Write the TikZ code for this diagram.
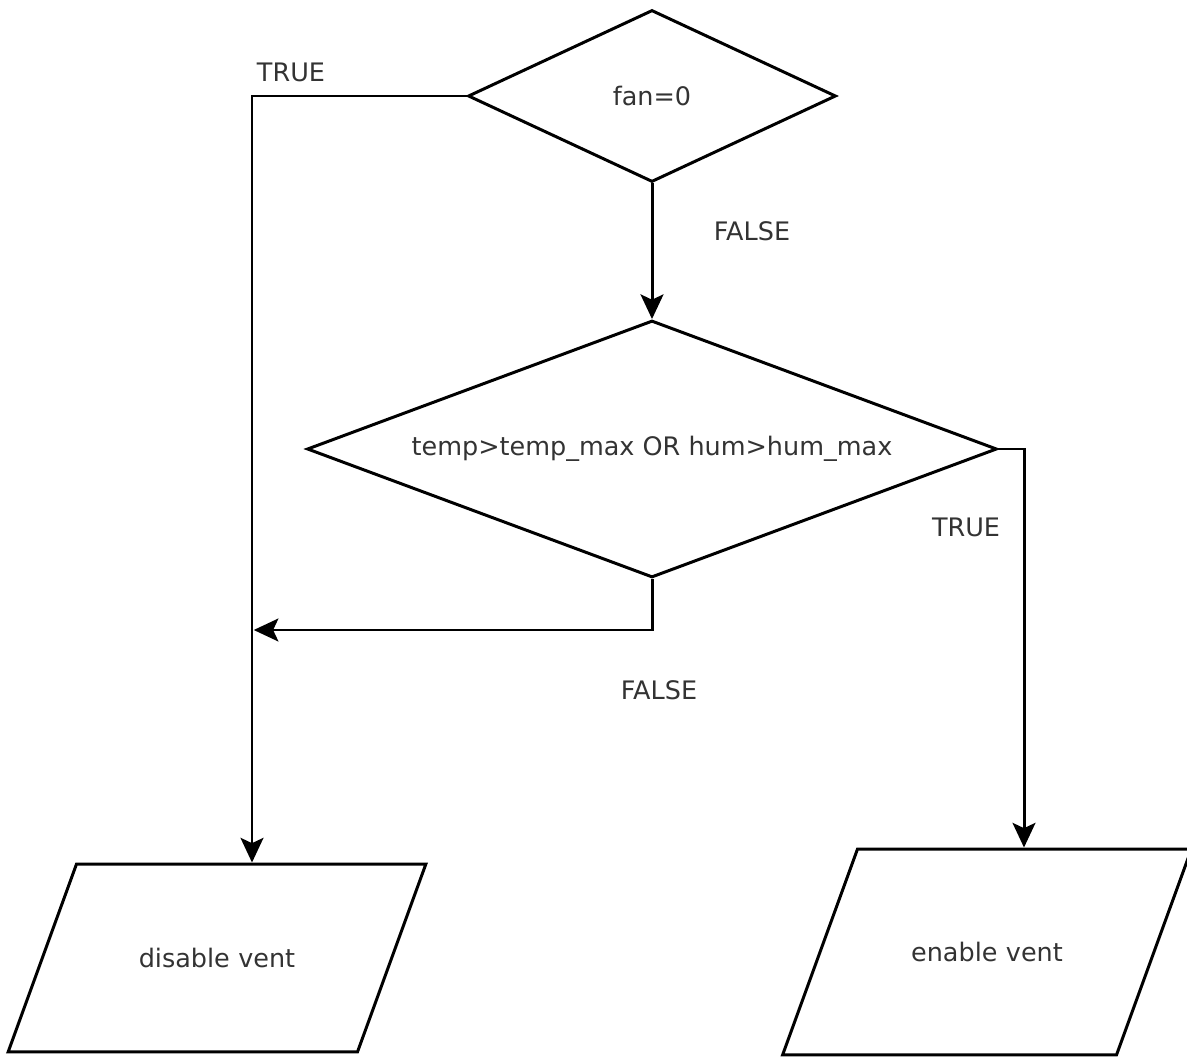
\documentclass[tikz,border=0pt]{standalone}
\usepackage{fontspec}
\setmainfont{DejaVu Sans}
\usetikzlibrary{shapes.geometric,arrows.meta}

\begin{document}
\begin{tikzpicture}[x=0.02cm, y=-0.02cm,
    decision/.style={diamond, draw, line width=1.7pt, inner sep=0pt, font=\fontsize{14.5}{16}\selectfont, text=black!80},
    io/.style={trapezium, trapezium left angle=70, trapezium right angle=110, draw, line width=1.7pt, inner sep=0pt, align=center, font=\fontsize{14.5}{16}\selectfont, text=black!80},
    arrow/.style={-{Stealth[length=14pt, width=13pt, inset=3pt]}, line width=1.7pt},
    lbl/.style={font=\fontsize{14.5}{16}\selectfont, text=black!80}
]
    \useasboundingbox (0,0) rectangle (1187,1057);

    % Entscheidungen
    \node[decision, aspect=2.1, minimum width=7.36cm, minimum height=3.44cm] (fan) at (652,96) {fan=0};
    \node[decision, aspect=2.7, minimum width=13.8cm, minimum height=5.14cm] (cond) at (652,449) {temp>temp\_max OR hum>hum\_max};

    % Ausgaben
    \node[io, text width=5.62cm, text height=2.06cm, text depth=1.70cm] (disable) at (217,958) {disable vent};
    \node[io, text width=5.18cm, text height=2.24cm, text depth=1.88cm] (enable) at (987,952) {enable vent};

    % Hilfspunkte
    \coordinate (tl) at (252,96);
    \coordinate (tr) at (1024,449);
    \coordinate (fl) at (652,630);

    % Verbindungen
    \draw[arrow] (fan.south) -- (cond.north);
    \draw[arrow] (fan.west) -- (tl) -- (tl |- disable.north);
    \draw[arrow] (cond.east) -- (tr) -- (tr |- enable.north);
    \draw[arrow, shorten >=1pt] (cond.south) -- (fl) -- (fl -| tl);

    % Beschriftungen
    \node[lbl] (fantrue) at (291,72) {TRUE};
    \node[lbl] (fanfalse) at (752,231) {FALSE};
    \node[lbl] (condtrue) at (966,527) {TRUE};
    \node[lbl] (condfalse) at (659,690) {FALSE};
\end{tikzpicture}
\end{document}
